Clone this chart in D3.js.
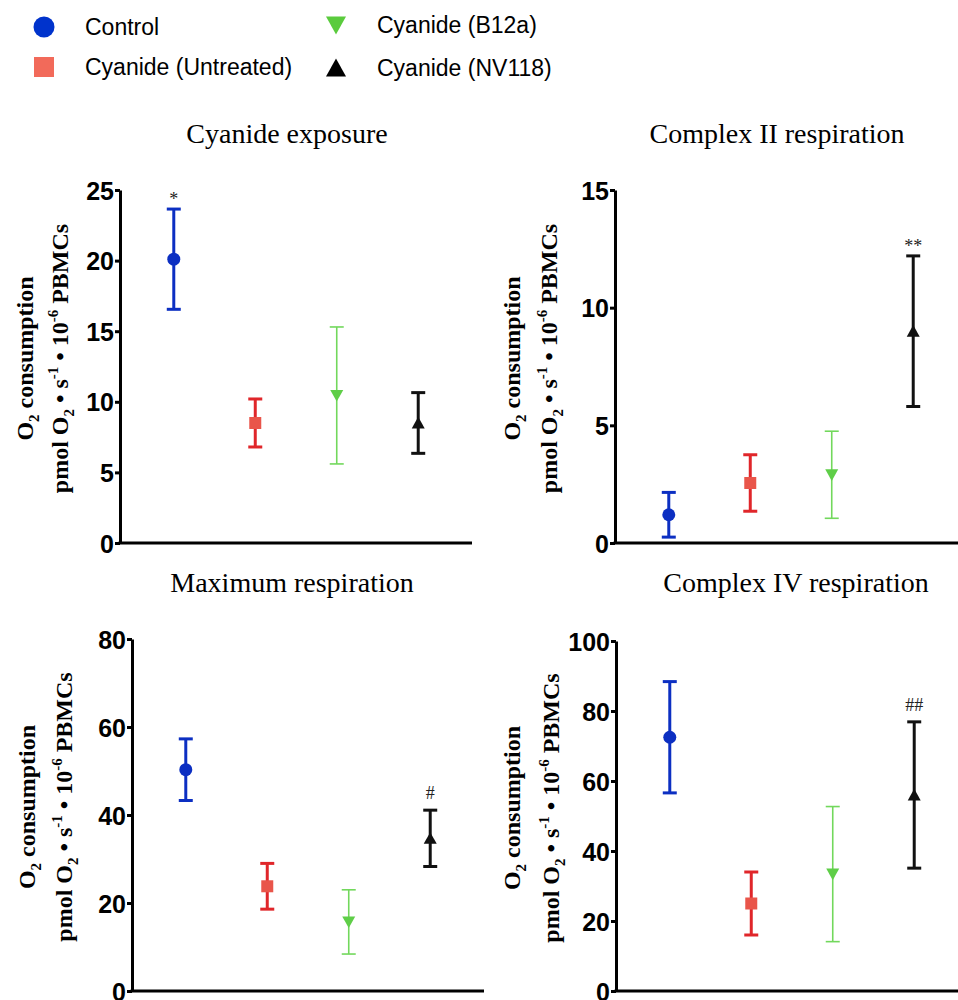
<!DOCTYPE html>
<html>
<head>
<meta charset="utf-8">
<script src="https://cdnjs.cloudflare.com/ajax/libs/d3/7.8.5/d3.min.js"></script>
<style>
  body { margin: 0; background: #fff; }
  svg { display: block; }
</style>
</head>
<body>
<div id="chart"></div>
<script>
// groups (same order in every panel)
var groups = ["Control", "Cyanide (Untreated)", "Cyanide (B12a)", "Cyanide (NV118)"];
var titles = ["Cyanide exposure", "Complex II respiration", "Maximum respiration", "Complex IV respiration"];

// mean and error (half length of bar)
var exposureMean = [20.1, 8.5, 10.45, 8.5];
var exposureErr = [3.55, 1.7, 4.85, 2.15];
var exposureMarks = ["*", "", "", ""];
var exposureTicks = [0, 5, 10, 15, 20, 25];

var complex2Mean = [1.2, 2.55, 2.9, 9.0];
var complex2Err = [0.95, 1.2, 1.85, 3.2];
var complex2Marks = ["", "", "", "**"];
var complex2Ticks = [0, 5, 10, 15];

var maximumMean = [50.3, 23.8, 15.7, 34.7];
var maximumErr = [7, 5.2, 7.3, 6.4];
var maximumMarks = ["", "", "", "#"];
var maximumTicks = [0, 20, 40, 60, 80];

var complex4Mean = [72.5, 25, 33.4, 56];
var complex4Err = [15.9, 9, 19.3, 20.9];
var complex4Marks = ["", "", "", "##"];
var complex4Ticks = [0, 20, 40, 60, 80, 100];

// styling per group
var lineColor = ["#0c2fc2", "#e0262a", "#72d85c", "#111111"];
var markColor = ["#0c2fc2", "#e9554a", "#5fce48", "#111111"];
var legendColor = ["#0033cc", "#f26a5a", "#5acb3d", "#000000"];
var lineWidth = [3, 3, 1.6, 3];
var shapes = ["circle", "square", "down", "up"];
var markSize = [13, 12, 13, 13];

var width = 958, height = 1000, plotWidth = 352;

var svg = d3.select("#chart")
  .append("svg")
  .attr("width", width)
  .attr("height", height);

svg.append("rect")
  .attr("width", width)
  .attr("height", height)
  .attr("fill", "#fff");

function shapePath(shape, w) {
  var h = w / 2;
  if (shape == "circle") return d3.arc()({ innerRadius: 0, outerRadius: h, startAngle: 0, endAngle: 2 * Math.PI });
  if (shape == "square") return "M" + (-h) + "," + (-h) + "h" + w + "v" + w + "h" + (-w) + "Z";
  if (shape == "down") return "M" + (-h) + "," + (-h * 0.85) + "L" + h + "," + (-h * 0.85) + "L0," + (h * 0.95) + "Z";
  return "M" + (-h) + "," + (h * 0.85) + "L" + h + "," + (h * 0.85) + "L0," + (-h * 0.95) + "Z";
}

// legend
var legendPos = [[44, 27], [44, 67], [336, 25], [336, 68]];
var legend = svg.selectAll(".legend")
  .data(groups)
  .enter().append("g")
  .attr("class", "legend")
  .attr("transform", function(d, i) { return "translate(" + legendPos[i][0] + "," + legendPos[i][1] + ")"; });

legend.append("path")
  .attr("d", function(d, i) { return shapePath(shapes[i], i == 0 ? 21 : 20); })
  .attr("fill", function(d, i) { return legendColor[i]; });

legend.append("text")
  .attr("x", 41)
  .attr("y", 8)
  .text(function(d) { return d; })
  .attr("font-family", "Liberation Sans, Arial, sans-serif")
  .attr("font-size", 23)
  .attr("fill", "#000");

var panels = [
  { mean: exposureMean, err: exposureErr, marks: exposureMarks, ticks: exposureTicks, left: 120, top: 190, bottom: 543, titleX: 287, titleY: 143, lab1: 33, lab2: 68 },
  { mean: complex2Mean, err: complex2Err, marks: complex2Marks, ticks: complex2Ticks, left: 615, top: 190, bottom: 543, titleX: 777, titleY: 143, lab1: 520, lab2: 557 },
  { mean: maximumMean, err: maximumErr, marks: maximumMarks, ticks: maximumTicks, left: 132, top: 639, bottom: 991, titleX: 292, titleY: 592, lab1: 35, lab2: 72 },
  { mean: complex4Mean, err: complex4Err, marks: complex4Marks, ticks: complex4Ticks, left: 616, top: 641, bottom: 991, titleX: 796, titleY: 592, lab1: 520, lab2: 559 }
];

panels.forEach(function(p, k) {
  var plotHeight = p.bottom - p.top;

  var xPositionScale = d3.scalePoint().domain(groups).range([0, plotWidth]).padding(0.66);
  var yPositionScale = d3.scaleLinear()
    .domain([0, d3.max(p.ticks)])
    .range([plotHeight, 0]);

  var g = svg.append("g")
    .attr("transform", "translate(" + p.left + "," + p.top + ")");

  svg.append("text")
    .attr("x", p.titleX)
    .attr("y", p.titleY)
    .text(titles[k])
    .attr("font-family", "Liberation Serif, Times New Roman, serif")
    .attr("font-size", 28)
    .attr("text-anchor", "middle")
    .attr("fill", "#000");

  // y axis label, two lines
  var midY = p.top + plotHeight / 2 - 8;
  var lab1 = svg.append("text")
    .attr("transform", "translate(" + p.lab1 + "," + midY + ") rotate(-90)")
    .attr("text-anchor", "middle")
    .attr("font-family", "Liberation Serif, Times New Roman, serif")
    .attr("font-weight", "bold")
    .attr("font-size", 24);
  lab1.append("tspan").text("O");
  lab1.append("tspan").text("2").attr("font-size", 15).attr("dy", 6);
  lab1.append("tspan").text(" consumption").attr("dy", -6);

  var lab2 = svg.append("text")
    .attr("transform", "translate(" + p.lab2 + "," + midY + ") rotate(-90)")
    .attr("text-anchor", "middle")
    .attr("font-family", "Liberation Serif, Times New Roman, serif")
    .attr("font-weight", "bold")
    .attr("font-size", 24);
  lab2.append("tspan").text("pmol O");
  lab2.append("tspan").text("2").attr("font-size", 15).attr("dy", 6);
  lab2.append("tspan").text(" \u2022 s").attr("dy", -6);
  lab2.append("tspan").text("-1").attr("font-size", 15).attr("dy", -10);
  lab2.append("tspan").text(" \u2022 10").attr("dy", 10);
  lab2.append("tspan").text("-6").attr("font-size", 15).attr("dy", -10);
  lab2.append("tspan").text(" PBMCs").attr("dy", 10);

  var yAxis = d3.axisLeft(yPositionScale)
    .tickValues(p.ticks)
    .tickSize(5)
    .tickSizeOuter(0)
    .tickPadding(1);

  var yg = g.append("g")
    .attr("class", "axis y-axis")
    .call(yAxis);
  yg.selectAll("path, line").attr("stroke", "#000").attr("stroke-width", 3);
  yg.selectAll("text")
    .attr("font-family", "Liberation Sans, Arial, sans-serif")
    .attr("font-weight", "bold")
    .attr("font-size", 25)
    .attr("fill", "#000")
    .attr("dy", "0.36em");

  var xAxis = d3.axisBottom(xPositionScale).tickValues([]).tickSizeOuter(0);
  var xg = g.append("g")
    .attr("class", "axis x-axis")
    .attr("transform", "translate(0," + plotHeight + ")")
    .call(xAxis);
  xg.select(".domain").attr("stroke", "#000").attr("stroke-width", 3)
    .attr("d", "M-1.5,0H" + plotWidth);

  var rows = groups.map(function(name, i) {
    return { name: name, i: i, mean: p.mean[i], err: p.err[i], mark: p.marks[i] };
  });

  var bars = g.selectAll(".errbar")
    .data(rows)
    .enter().append("g")
    .attr("class", "errbar")
    .attr("stroke", function(d) { return lineColor[d.i]; })
    .attr("stroke-width", function(d) { return lineWidth[d.i]; });

  bars.append("line")
    .attr("x1", function(d) { return xPositionScale(d.name); })
    .attr("x2", function(d) { return xPositionScale(d.name); })
    .attr("y1", function(d) { return yPositionScale(d.mean + d.err); })
    .attr("y2", function(d) { return yPositionScale(d.mean - d.err); });

  [1, -1].forEach(function(s) {
    bars.append("line")
      .attr("x1", function(d) { return xPositionScale(d.name) - 7; })
      .attr("x2", function(d) { return xPositionScale(d.name) + 7; })
      .attr("y1", function(d) { return yPositionScale(d.mean + s * d.err); })
      .attr("y2", function(d) { return yPositionScale(d.mean + s * d.err); });
  });

  g.selectAll(".marker")
    .data(rows)
    .enter().append("path")
    .attr("class", "marker")
    .attr("transform", function(d) { return "translate(" + xPositionScale(d.name) + "," + yPositionScale(d.mean) + ")"; })
    .attr("d", function(d) { return shapePath(shapes[d.i], markSize[d.i]); })
    .attr("fill", function(d) { return markColor[d.i]; });

  g.selectAll(".sig")
    .data(rows.filter(function(d) { return d.mark != ""; }))
    .enter().append("text")
    .attr("class", "sig")
    .attr("x", function(d) { return xPositionScale(d.name); })
    .attr("y", function(d) { return yPositionScale(d.mean + d.err); })
    .attr("dy", function(d) { return d.mark.indexOf("#") >= 0 ? -11 : -4; })
    .text(function(d) { return d.mark; })
    .attr("text-anchor", "middle")
    .attr("font-family", "Liberation Serif, Times New Roman, serif")
    .attr("font-size", 18)
    .attr("fill", "#222");
});
</script>
</body>
</html>
